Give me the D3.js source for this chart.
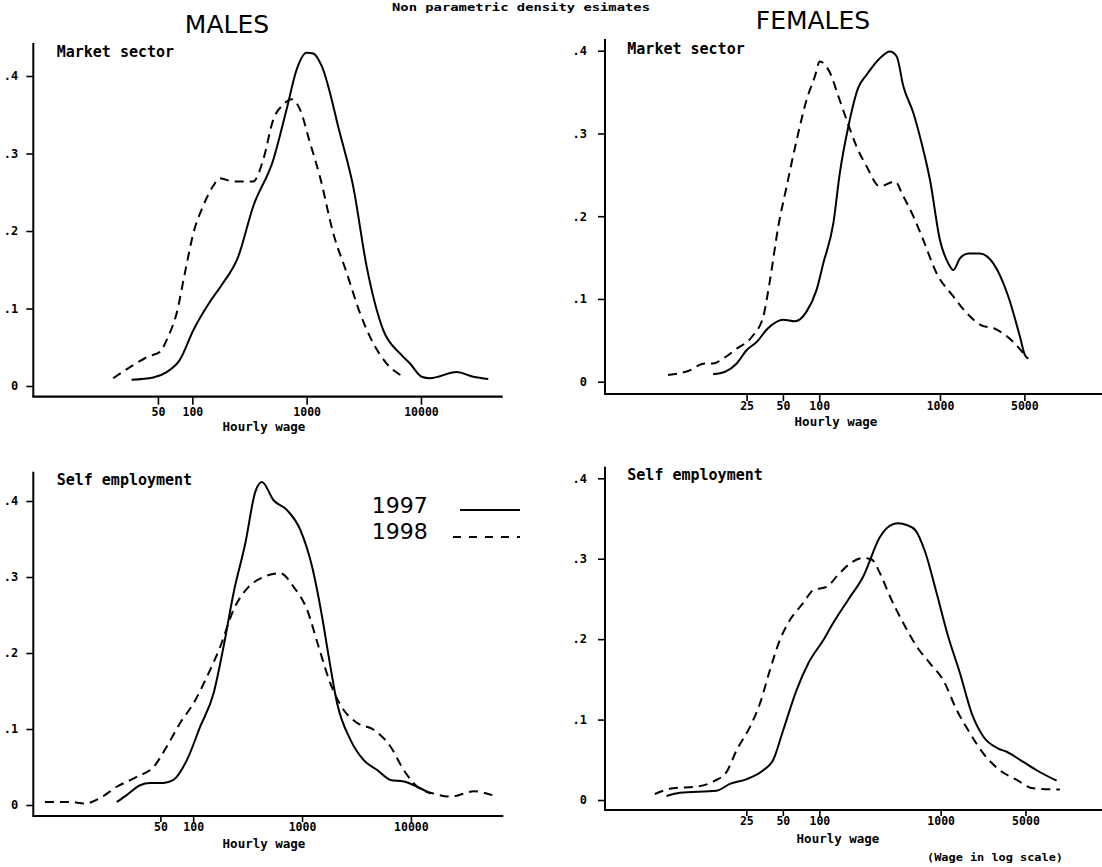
<!DOCTYPE html>
<html>
<head>
<meta charset="utf-8">
<script src="https://cdn.jsdelivr.net/npm/d3@7"></script>
<style>
  html, body { margin: 0; padding: 0; background: #fff; }
  svg { display: block; }
  .mono { font-family: "DejaVu Sans Mono", "Liberation Mono", monospace; font-weight: bold; fill: #000; }
  .big { font-family: "DejaVu Sans", sans-serif; font-weight: normal; fill: #000; }
</style>
</head>
<body>
<svg id="chart" width="1102" height="867"></svg>
<script>
// ticks
const maleTicks = [50, 100, 1000, 10000];
const femaleTicks = [25, 50, 100, 1000, 5000];
const densityTicks = [0, 0.1, 0.2, 0.3, 0.4];
const years = ["1997", "1998"];

// [hourly wage, density]
const maleMarket97 = [[29.4,0.008],[45.5,0.011],[59.6,0.018],[78,0.034],[102,0.072],[143,0.109],[180,0.130],[252,0.167],[341,0.232],[511,0.292],[668,0.357],[816,0.408],[1000,0.430],[1143,0.429],[1353,0.413],[1954,0.326],[2558,0.257],[3350,0.154],[4680,0.072],[6550,0.042],[8020,0.029],[10140,0.012],[12000,0.010],[20500,0.018],[28700,0.012],[38800,0.009]];
const maleMarket98 = [[20.3,0.010],[30.4,0.027],[41.1,0.038],[52,0.044],[61.5,0.064],[72.9,0.094],[86.1,0.146],[102,0.197],[124,0.232],[152,0.258],[174,0.268],[228,0.264],[341,0.264],[417,0.292],[511,0.344],[624,0.363],[739,0.370],[873,0.357],[1069,0.314],[1307,0.270],[1710,0.197],[2240,0.146],[2930,0.094],[3830,0.055],[5010,0.029],[7000,0.012]];
const femaleMarket97 = [[13.2,0.009],[16.6,0.012],[20.7,0.022],[25,0.038],[30.3,0.048],[37.8,0.065],[50.4,0.075],[63,0.073],[78.7,0.085],[95,0.111],[108,0.143],[131,0.192],[148,0.252],[174,0.308],[210,0.355],[247,0.371],[318,0.391],[385,0.399],[438,0.393],[497,0.357],[601,0.325],[705,0.288],[826,0.244],[1000,0.171],[1172,0.143],[1290,0.135],[1464,0.149],[1715,0.155],[2142,0.155],[2765,0.143],[3680,0.103],[4605,0.054],[5060,0.032],[5400,0.028]];
const femaleMarket98 = [[5.6,0.008],[8.2,0.013],[11.3,0.022],[13.2,0.022],[16,0.028],[20.7,0.040],[27.6,0.054],[34.4,0.079],[39.1,0.123],[45.7,0.187],[53.7,0.236],[65,0.292],[78.7,0.341],[92,0.369],[101,0.387],[123,0.373],[144,0.345],[169,0.316],[204,0.284],[247,0.260],[318,0.236],[424,0.242],[497,0.224],[601,0.200],[728,0.171],[938,0.131],[1290,0.103],[1663,0.083],[2142,0.069],[2950,0.063],[4045,0.048],[5060,0.032]];
const maleSelf97 = [[19.9,0.004],[24.5,0.013],[32.5,0.026],[40.2,0.029],[53.3,0.029],[65.9,0.033],[87.5,0.059],[116,0.103],[154,0.147],[190,0.208],[235,0.279],[301,0.344],[372,0.412],[428,0.425],[548,0.401],[728,0.388],[964,0.362],[1235,0.314],[1527,0.248],[1760,0.195],[2100,0.134],[2780,0.086],[3690,0.059],[4900,0.046],[6490,0.033],[8600,0.031],[11430,0.024],[15140,0.015]];
const maleSelf98 = [[4.35,0.004],[7.4,0.004],[10.1,0.002],[13.9,0.009],[19.9,0.024],[30.3,0.037],[43.2,0.050],[57.3,0.077],[75.9,0.108],[101,0.134],[134,0.169],[177,0.208],[235,0.257],[323,0.287],[444,0.300],[631,0.305],[837,0.287],[1112,0.257],[1422,0.208],[1820,0.160],[2415,0.125],[3206,0.108],[4560,0.099],[6490,0.077],[8600,0.046],[11430,0.024],[16240,0.015],[23100,0.011],[37900,0.018],[56000,0.013]];
const femaleSelf97 = [[5.5,0.005],[7.1,0.009],[14.2,0.0115],[18.3,0.020],[25.2,0.026],[34.5,0.037],[41.7,0.050],[50.4,0.087],[65,0.137],[81.1,0.170],[108,0.199],[130,0.220],[173,0.249],[230,0.278],[316,0.327],[359,0.338],[447,0.344],[524,0.342],[614,0.336],[743,0.309],[927,0.257],[1155,0.203],[1441,0.158],[1800,0.108],[2244,0.079],[2983,0.064],[3500,0.060],[4510,0.050],[6180,0.037],[9030,0.024]];
const femaleSelf98 = [[4.4,0.0075],[6.25,0.0146],[9.7,0.0166],[13.8,0.024],[17.2,0.035],[20.8,0.062],[26.8,0.091],[32.4,0.120],[39.2,0.162],[47.3,0.199],[57.3,0.224],[73.7,0.245],[89.1,0.261],[115,0.265],[139,0.278],[179,0.294],[230,0.301],[270,0.299],[316,0.282],[382,0.253],[492,0.220],[634,0.191],[816,0.170],[1050,0.149],[1355,0.112],[1746,0.083],[2244,0.058],[3080,0.037],[4235,0.025],[5800,0.0146],[9610,0.013]];

const panels = [
  { label: "Market sector", ticks: maleTicks, s97: maleMarket97, s98: maleMarket98,
    x0: 33.3, x1: 502.7, dom: [4.06, 51900], yTop: 43, axisY: 396.7, yZero: 386, yMax: 76,
    labelX: 56.7, labelY: 57, wageX: 264, wageY: 431, pad: 8, tk: 8, tpad: 3.5 },
  { label: "Market sector", ticks: femaleTicks, s97: femaleMarket97, s98: femaleMarket98,
    x0: 605, x1: 1102, dom: [1.68, 21980], yTop: 39, axisY: 394, yZero: 381.7, yMax: 50.7,
    labelX: 627.3, labelY: 53.5, wageX: 836, wageY: 425.5, pad: 11, tk: 7, tpad: 1 },
  { label: "Self employment", ticks: maleTicks, s97: maleSelf97, s98: maleSelf98,
    x0: 33.3, x1: 503.3, dom: [3.40, 70600], yTop: 471.7, axisY: 816, yZero: 805, yMax: 501,
    labelX: 56.7, labelY: 485, wageX: 264, wageY: 847.5, pad: 8, tk: 6, tpad: 1 },
  { label: "Self employment", ticks: femaleTicks, s97: femaleSelf97, s98: femaleSelf98,
    x0: 605, x1: 1102, dom: [1.71, 21380], yTop: 466.7, axisY: 810, yZero: 800, yMax: 478.3,
    labelX: 627.3, labelY: 480, wageX: 838, wageY: 842.5, pad: 11, tk: 6, tpad: 1 }
];

const svg = d3.select("#chart");
const fmtY = d => d === 0 ? "0" : d3.format(".1f")(d).replace(/^0/, "");

panels.forEach(p => {
  const x = d3.scaleLog().domain(p.dom).range([p.x0, p.x1]);
  const y = d3.scaleLinear().domain([0, 0.4]).range([p.yZero, p.yMax]);
  const g = svg.append("g");

  // axis lines
  g.append("line").attr("x1", p.x0).attr("x2", p.x0).attr("y1", p.yTop).attr("y2", p.axisY)
    .attr("stroke", "#000").attr("stroke-width", 2);
  g.append("line").attr("x1", p.x0 - 1).attr("x2", p.x1).attr("y1", p.axisY).attr("y2", p.axisY)
    .attr("stroke", "#000").attr("stroke-width", 2.2);

  const ya = g.append("g").attr("transform", `translate(${p.x0},0)`)
    .call(d3.axisLeft(y).tickValues(densityTicks).tickFormat(fmtY).tickSize(7).tickPadding(p.pad));
  ya.select(".domain").remove();
  ya.selectAll("line").attr("stroke-width", 1.6);
  ya.selectAll("text").attr("class", "mono").style("font-size", "12px");

  const xa = g.append("g").attr("transform", `translate(0,${p.axisY})`)
    .call(d3.axisBottom(x).tickValues(p.ticks).tickFormat(d3.format("d")).tickSize(p.tk).tickPadding(p.tpad));
  xa.select(".domain").remove();
  xa.selectAll("line").attr("stroke-width", 1.6);
  xa.selectAll("text").attr("class", "mono").style("font-size", "11.5px");

  g.append("text").attr("class", "mono").attr("x", p.labelX).attr("y", p.labelY)
    .style("font-size", "15px").text(p.label);
  g.append("text").attr("class", "mono").attr("x", p.wageX).attr("y", p.wageY)
    .attr("text-anchor", "middle").style("font-size", "12.5px").text("Hourly wage");

  const line = d3.line().x(d => x(d[0])).y(d => y(d[1])).curve(d3.curveMonotoneX);
  g.append("path").datum(p.s97).attr("d", line)
    .attr("fill", "none").attr("stroke", "#000").attr("stroke-width", 2);
  g.append("path").datum(p.s98).attr("d", line)
    .attr("fill", "none").attr("stroke", "#000").attr("stroke-width", 2)
    .attr("stroke-dasharray", "9,6");
});

// titles
svg.append("text").attr("class", "mono").attr("x", 392).attr("y", 11)
  .attr("textLength", 258).attr("lengthAdjust", "spacingAndGlyphs")
  .style("font-size", "11px").text("Non parametric density esimates");
svg.append("text").attr("class", "big").attr("x", 227).attr("y", 33)
  .attr("text-anchor", "middle").style("font-size", "25px").text("MALES");
svg.append("text").attr("class", "big").attr("x", 813).attr("y", 29)
  .attr("text-anchor", "middle").style("font-size", "25px").text("FEMALES");
svg.append("text").attr("class", "mono").attr("x", 927).attr("y", 861)
  .attr("textLength", 136).attr("lengthAdjust", "spacingAndGlyphs")
  .style("font-size", "11px").text("(Wage in log scale)");

// legend
const leg = svg.append("g");
years.forEach((yr, i) => {
  leg.append("text").attr("class", "big").attr("x", 371.7).attr("y", 513 + i * 25.5)
    .style("font-size", "22px").text(yr);
  leg.append("line").attr("x1", i === 0 ? 460 : 453).attr("x2", 520)
    .attr("y1", 510 + i * 27).attr("y2", 510 + i * 27)
    .attr("stroke", "#000").attr("stroke-width", 2)
    .attr("stroke-dasharray", i === 0 ? null : "8,8");
});
</script>
</body>
</html>
